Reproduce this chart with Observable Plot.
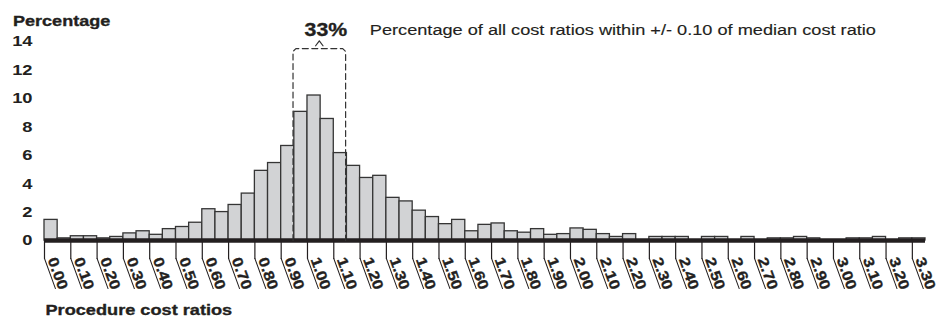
<!DOCTYPE html>
<html>
<head>
<meta charset="utf-8">
<script src="https://cdn.jsdelivr.net/npm/d3@7"></script>
<script src="https://cdn.jsdelivr.net/npm/@observablehq/plot@0.6"></script>
<style>
  body { margin: 0; background: #fff; }
</style>
</head>
<body>
<div id="chart"></div>
<script>
// ---- data ----
const binWidth = 0.05;
const binStarts = [
  0.00, 0.05, 0.10, 0.15, 0.20, 0.25, 0.30, 0.35, 0.40, 0.45,
  0.50, 0.55, 0.60, 0.65, 0.70, 0.75, 0.80, 0.85, 0.90, 0.95,
  1.00, 1.05, 1.10, 1.15, 1.20, 1.25, 1.30, 1.35, 1.40, 1.45,
  1.50, 1.55, 1.60, 1.65, 1.70, 1.75, 1.80, 1.85, 1.90, 1.95,
  2.00, 2.05, 2.10, 2.15, 2.20, 2.25, 2.30, 2.35, 2.40, 2.45,
  2.50, 2.55, 2.60, 2.65, 2.70, 2.75, 2.80, 2.85, 2.90, 2.95,
  3.00, 3.05, 3.10, 3.15, 3.20, 3.25, 3.30
];
const percentages = [
  1.45, 0.15, 0.30, 0.30, 0.15, 0.25, 0.50, 0.65, 0.40, 0.80,
  0.95, 1.25, 2.20, 2.00, 2.50, 3.30, 4.90, 5.45, 6.65, 9.05,
  10.20, 8.55, 6.15, 5.25, 4.40, 4.55, 3.00, 2.75, 2.10, 1.65,
  1.15, 1.45, 0.65, 1.10, 1.20, 0.65, 0.55, 0.80, 0.40, 0.45,
  0.85, 0.75, 0.45, 0.25, 0.45, 0.00, 0.25, 0.25, 0.25, 0.00,
  0.25, 0.25, 0.00, 0.25, 0.00, 0.15, 0.15, 0.25, 0.15, 0.00,
  0.00, 0.15, 0.15, 0.25, 0.00, 0.15, 0.15
];
const tickLabels = [
  "0.00","0.10","0.20","0.30","0.40","0.50","0.60","0.70","0.80","0.90",
  "1.00","1.10","1.20","1.30","1.40","1.50","1.60","1.70","1.80","1.90",
  "2.00","2.10","2.20","2.30","2.40","2.50","2.60","2.70","2.80","2.90",
  "3.00","3.10","3.20","3.30"
];
const yTicks = [0, 2, 4, 6, 8, 10, 12, 14];
const yTitle = "Percentage";
const xTitle = "Procedure cost ratios";
const medianRatio = 1.045;
const band = 0.10;
const shareLabel = "33%";
const shareNote = "Percentage of all cost ratios within +/- 0.10 of median cost ratio";
const bracketTop = 13.5;

// ---- derived tables ----
const bins = binStarts.map((s, i) => ({x1: s, x2: s + binWidth, pct: percentages[i]}));
const lo = medianRatio - band, hi = medianRatio + band;
const bracket = [
  {x: lo, y: 0}, {x: lo, y: bracketTop - 0.2}, {x: lo + 0.011, y: bracketTop},
  {x: hi - 0.011, y: bracketTop}, {x: hi, y: bracketTop - 0.2}, {x: hi, y: 0}
];
const caret = [
  {x: medianRatio - 0.014, y: bracketTop + 0.2},
  {x: medianRatio, y: bracketTop + 0.55},
  {x: medianRatio + 0.014, y: bracketTop + 0.2}
];
const stem = {draw(context, l) { context.moveTo(0, 0); context.lineTo(0, -l); }};
const ink = "#231f20";
const boldText = {fontWeight: "bold", fill: ink, stroke: ink, strokeWidth: 0.35};

const chart = Plot.plot({
  width: 951,
  height: 318,
  marginLeft: 44,
  marginRight: 26,
  marginTop: 41,
  marginBottom: 78,
  x: {domain: [0, 3.35], axis: null},
  y: {domain: [0, 14], axis: null},
  style: {fontFamily: '"Liberation Sans", Arial, Helvetica, sans-serif', color: ink, background: "#fff", overflow: "visible"},
  marks: [
    Plot.rectY(bins, {x1: "x1", x2: "x2", y: "pct", fill: "#d2d3d5", stroke: "#353535", strokeWidth: 1.3}),
    Plot.ruleY([0], {stroke: ink, strokeWidth: 4.4}),
    Plot.line(bracket, {x: "x", y: "y", stroke: "#333", strokeWidth: 1.2, strokeDasharray: "6,3.5"}),
    Plot.line(caret, {x: "x", y: "y", stroke: "#333", strokeWidth: 1.2}),
    Plot.vector(tickLabels, {x: d => +d, y: () => 0, length: 18, rotate: 180, anchor: "start", shape: stem, stroke: ink, strokeWidth: 1.2}),
    Plot.vector(tickLabels, {x: d => +d, y: () => 0, dy: 18, length: 32, rotate: 160, anchor: "start", shape: stem, stroke: ink, strokeWidth: 1}),
    Plot.text(tickLabels, {x: d => +d, y: () => 0, text: d => d, rotate: 70, textAnchor: "start", lineAnchor: "bottom", dx: 3, dy: 19, fontSize: 14.5, ...boldText}),
    Plot.axisY(yTicks, {tickSize: 0, tickPadding: 12, fontSize: 15.5, label: null, ...boldText}),
    Plot.text([yTitle], {text: d => d, frameAnchor: "top-left", textAnchor: "start", lineAnchor: "bottom", dx: -31.5, dy: -16, fontSize: 15.3, ...boldText}),
    Plot.text([xTitle], {text: d => d, frameAnchor: "bottom-left", textAnchor: "start", lineAnchor: "bottom", dx: 1, dy: 74.5, fontSize: 15.4, ...boldText}),
    Plot.text([shareLabel], {text: d => d, x: () => medianRatio, frameAnchor: "top", textAnchor: "middle", lineAnchor: "bottom", dx: 6.5, dy: -5.5, fontSize: 18, ...boldText}),
    Plot.text([shareNote], {text: d => d, x: () => medianRatio, frameAnchor: "top", textAnchor: "start", lineAnchor: "bottom", dx: 50.5, dy: -6.5, fontSize: 15.4, fill: ink, stroke: ink, strokeWidth: 0.15})
  ]
});

// the reference typeface is a wide Helvetica: widen every label horizontally about its anchor
const widen = 1.18;
chart.querySelectorAll("text").forEach(t => {
  const tr = t.getAttribute("transform") || "";
  const xa = t.getAttribute("x"), ya = t.getAttribute("y");
  const x = xa !== null && /^-?[\d.]+$/.test(xa) ? +xa : 0;
  const y = ya !== null && /^-?[\d.]+$/.test(ya) ? +ya : 0;
  t.setAttribute("transform", `${tr} translate(${x},${y}) scale(${widen},1) translate(${-x},${-y})`);
});
document.getElementById("chart").appendChild(chart);
</script>
</body>
</html>
